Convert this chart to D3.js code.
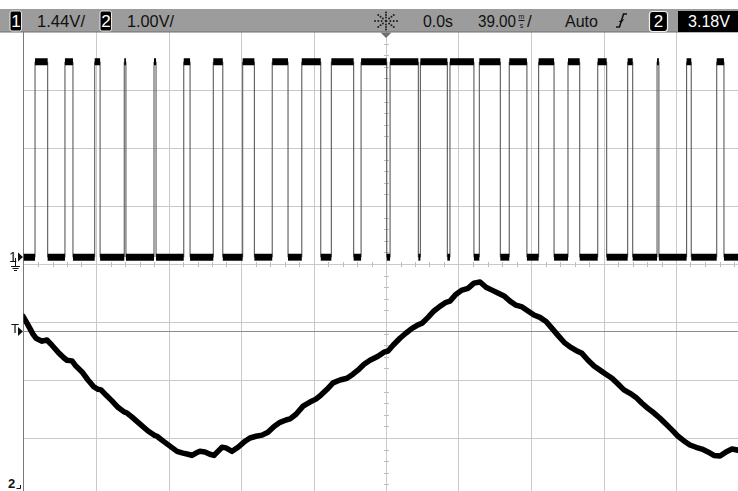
<!DOCTYPE html>
<html>
<head>
<meta charset="utf-8">
<script src="https://cdn.jsdelivr.net/npm/d3@7/dist/d3.min.js"></script>
<style>
  html, body { margin: 0; padding: 0; background: #fff; }
  svg { display: block; }
  text { font-family: "Liberation Sans", Arial, sans-serif; }
</style>
</head>
<body>
<svg id="scope" width="738" height="491"></svg>
<script>
// ---- acquisition settings ----
const timePerDiv = 39;          // ms / div
const ch1VoltsPerDiv = 1.44;    // V / div
const ch2VoltsPerDiv = 1.00;    // V / div
const ch1Offset = -0.17;        // V at screen centre
const ch2Offset = 4.33;         // V at screen centre
const triggerLevel = 3.18;      // V, channel 2

// ---- status bar labels ----
const ch1Label = "1.44V/";
const ch2Label = "1.00V/";
const delayLabel = "0.0s";
const timebaseLabel = "39.00";
const modeLabel = "Auto";
const trigSourceLabel = "2";
const trigLevelLabel = "3.18V";

// ---- channel 1: PWM logic signal (edge times in ms, levels in V) ----
const ch1Low = 0.0;
const ch1High = 4.85;
const ch1Rise = [-188.8, -172.7, -156.7, -140.8, -124.8, -108.8, -92.9, -77.1, -61.2, -45.3,
                 -29.4, -13.4, 2.2, 18.5, 34.4, 50.2, 66.3, 82.1, 97.9, 113.9,
                 130.0, 145.8, 161.7, 177.9];
const ch1Fall = [-182.0, -168.4, -153.8, -139.9, -123.7, -105.4, -87.8, -70.8, -52.7, -35.1,
                 -17.4, 0.4, 17.4, 33.0, 47.3, 61.5, 75.8, 90.4, 104.2, 118.7,
                 132.7, 146.8, 164.2, 181.8];

// ---- channel 2: filtered output (time in ms, voltage in V) ----
const ch2Time = [-195.3, -192.6, -189.9, -188.3, -185.0, -182.4, -179.7, -176.4, -173.2, -171.6,
                 -168.9, -166.8, -163.5, -160.3, -157.1, -154.9, -153.3, -150.6, -147.4, -144.2,
                 -140.9, -139.3, -136.6, -132.3, -128.0, -124.8, -123.2, -120.0, -116.2, -112.4,
                 -109.2, -106.5, -104.4, -102.2, -100.1, -97.4, -94.7, -92.5, -90.4, -88.2,
                 -86.1, -82.8, -79.6, -76.4, -73.2, -69.9, -66.7, -63.5, -60.2, -57.0,
                 -53.8, -51.6, -48.4, -44.6, -40.9, -37.7, -35.0, -31.7, -28.5, -24.7,
                 -21.0, -17.8, -15.1, -11.8, -8.6, -4.3, -1.1, 1.1, 3.8, 7.5,
                 10.8, 14.0, 17.2, 19.4, 22.6, 25.8, 29.0, 32.3, 34.4, 37.7,
                 40.9, 44.1,
                 47.3, 50.6, 53.8, 57.0, 60.2, 63.5, 66.7, 69.9, 73.2, 76.4,
                 79.6, 82.8, 86.1, 89.3, 92.5, 95.8, 99.0, 102.2, 105.4, 108.7,
                 111.9, 115.1, 118.3, 121.6, 124.8, 128.0, 131.3, 134.5, 137.7, 140.9,
                 144.2, 147.4, 150.6, 153.8, 157.1, 160.3, 163.5, 166.8, 170.0, 173.2,
                 176.4, 179.7, 182.9, 186.1, 189.4];
const ch2Volts = [3.43, 3.28, 3.12, 3.05, 3.00, 3.02, 2.93, 2.81, 2.71, 2.67,
                  2.66, 2.57, 2.47, 2.33, 2.21, 2.17, 2.16, 2.07, 1.97, 1.86,
                  1.78, 1.76, 1.69, 1.57, 1.45, 1.38, 1.36, 1.28, 1.19, 1.10,
                  1.07, 1.05, 1.03, 1.07, 1.10, 1.09, 1.05, 1.03, 1.10, 1.17,
                  1.16, 1.10, 1.17, 1.26, 1.33, 1.36, 1.38, 1.43, 1.53, 1.60,
                  1.64, 1.66, 1.74, 1.88, 1.95, 2.00, 2.07, 2.17, 2.28, 2.33,
                  2.36, 2.43, 2.50, 2.60, 2.67, 2.74, 2.81, 2.83, 2.93, 3.05,
                  3.14, 3.22, 3.28, 3.31, 3.41, 3.52, 3.60, 3.67, 3.69, 3.81,
                  3.88, 3.91,
                  4.00, 4.02, 3.93, 3.88, 3.83, 3.78, 3.69, 3.62, 3.59, 3.52,
                  3.45, 3.41, 3.34, 3.22, 3.10, 2.98, 2.90, 2.84, 2.79, 2.67,
                  2.57, 2.50, 2.43, 2.36, 2.26, 2.16, 2.10, 2.03, 1.93, 1.84,
                  1.76, 1.67, 1.57, 1.47, 1.36, 1.28, 1.21, 1.17, 1.14, 1.09,
                  1.03, 1.02, 1.09, 1.14, 1.12];

// ---- screen geometry ----
const screen = { left: 23.5, right: 748.5, top: 32, bottom: 496 };
const hDivs = 10, vDivs = 8;

const svg = d3.select("#scope");

const x = d3.scaleLinear()
  .domain([-hDivs / 2 * timePerDiv, hDivs / 2 * timePerDiv])
  .range([screen.left, screen.right]);
const y1 = d3.scaleLinear()
  .domain([ch1Offset - vDivs / 2 * ch1VoltsPerDiv, ch1Offset + vDivs / 2 * ch1VoltsPerDiv])
  .range([screen.bottom, screen.top]);
const y2 = d3.scaleLinear()
  .domain([ch2Offset - vDivs / 2 * ch2VoltsPerDiv, ch2Offset + vDivs / 2 * ch2VoltsPerDiv])
  .range([screen.bottom, screen.top]);
const divX = d3.scaleLinear().domain([-hDivs / 2, hDivs / 2]).range([screen.left, screen.right]);
const divY = d3.scaleLinear().domain([-vDivs / 2, vDivs / 2]).range([screen.bottom, screen.top]);

svg.append("defs").append("clipPath").attr("id", "screenClip")
  .append("rect")
  .attr("x", screen.left).attr("y", screen.top)
  .attr("width", screen.right - screen.left).attr("height", screen.bottom - screen.top);

// ---- graticule ----
const grid = svg.append("g").attr("class", "graticule");
grid.selectAll("line.v").data(d3.range(-hDivs / 2 + 1, hDivs / 2))
  .join("line").attr("class", "v")
  .attr("x1", d => Math.round(divX(d)) + 0.5).attr("x2", d => Math.round(divX(d)) + 0.5)
  .attr("y1", screen.top).attr("y2", screen.bottom)
  .attr("stroke", "#c9c9c9").attr("stroke-width", 1);
grid.selectAll("line.h").data(d3.range(-vDivs / 2 + 1, vDivs / 2))
  .join("line").attr("class", "h")
  .attr("x1", screen.left).attr("x2", screen.right)
  .attr("y1", d => Math.round(divY(d)) + 0.5).attr("y2", d => Math.round(divY(d)) + 0.5)
  .attr("stroke", "#c9c9c9").attr("stroke-width", 1);

// minor ticks on the centre axes
const cx = Math.round(divX(0)) + 0.5, cy = Math.round(divY(0)) + 0.5;
grid.selectAll("line.tx").data(d3.range(-hDivs / 2 * 5, hDivs / 2 * 5 + 1).filter(i => i % 5 !== 0))
  .join("line").attr("class", "tx")
  .attr("x1", i => Math.round(divX(i / 5)) + 0.5).attr("x2", i => Math.round(divX(i / 5)) + 0.5)
  .attr("y1", cy - 2.5).attr("y2", cy + 2.5)
  .attr("stroke", "#bdbdbd");
grid.selectAll("line.ty").data(d3.range(-vDivs / 2 * 5, vDivs / 2 * 5 + 1).filter(i => i % 5 !== 0))
  .join("line").attr("class", "ty")
  .attr("y1", i => Math.round(divY(i / 5)) + 0.5).attr("y2", i => Math.round(divY(i / 5)) + 0.5)
  .attr("x1", cx - 2.5).attr("x2", cx + 2.5)
  .attr("stroke", "#bdbdbd");

// left frame
svg.append("line")
  .attr("x1", screen.left).attr("x2", screen.left)
  .attr("y1", screen.top).attr("y2", screen.bottom)
  .attr("stroke", "#7a7a7a").attr("stroke-width", 1);

// trigger level line
svg.append("line")
  .attr("x1", screen.left).attr("x2", screen.right)
  .attr("y1", Math.round(y2(triggerLevel)) + 0.5).attr("y2", Math.round(y2(triggerLevel)) + 0.5)
  .attr("stroke", "#8c8c8c").attr("stroke-width", 1);

// ---- traces ----
const traces = svg.append("g").attr("clip-path", "url(#screenClip)");

// channel 1: edges then level bands
const tStart = x.domain()[0], tEnd = x.domain()[1];
const edges = ch1Rise.concat(ch1Fall);
traces.selectAll("line.edge").data(edges).join("line").attr("class", "edge")
  .attr("x1", d => x(d)).attr("x2", d => x(d))
  .attr("y1", y1(ch1High)).attr("y2", y1(ch1Low))
  .attr("stroke", "#5a5a5a").attr("stroke-width", 1.1);

const highSegs = ch1Rise.map((r, i) => [r, ch1Fall[i]]);
const lowSegs = [[tStart, ch1Rise[0]]]
  .concat(ch1Fall.map((f, i) => [f, i + 1 < ch1Rise.length ? ch1Rise[i + 1] : tEnd]));

traces.selectAll("line.hi").data(highSegs).join("line").attr("class", "hi")
  .attr("x1", d => x(d[0])).attr("x2", d => x(d[1]))
  .attr("y1", y1(ch1High)).attr("y2", y1(ch1High))
  .attr("stroke", "#000").attr("stroke-width", 7);
traces.selectAll("line.lo").data(lowSegs).join("line").attr("class", "lo")
  .attr("x1", d => x(d[0])).attr("x2", d => x(d[1]))
  .attr("y1", y1(ch1Low)).attr("y2", y1(ch1Low))
  .attr("stroke", "#000").attr("stroke-width", 7);

// channel 2
const ch2 = ch2Time.map((t, i) => ({ t, v: ch2Volts[i] }));
traces.append("path").datum(ch2)
  .attr("d", d3.line().x(d => x(d.t)).y(d => y2(d.v)))
  .attr("fill", "none").attr("stroke", "#000")
  .attr("stroke-width", 5.5).attr("stroke-linejoin", "round").attr("stroke-linecap", "round");

// ---- status bar ----
const bar = svg.append("g");
bar.append("rect").attr("x", 0).attr("y", 9).attr("width", 738).attr("height", 23).attr("fill", "#9c9c9c");
bar.append("line").attr("x1", 0).attr("x2", 738).attr("y1", 32).attr("y2", 32).attr("stroke", "#6e6e6e");

function chanBox(xPos, label) {
  bar.append("rect").attr("x", xPos).attr("y", 11).attr("width", 11.5).attr("height", 20)
    .attr("rx", 2).attr("fill", "#000").attr("stroke", "#e8e8e8").attr("stroke-width", 1);
  bar.append("text").attr("x", xPos + 5.9).attr("y", 27).attr("text-anchor", "middle")
    .attr("font-size", 17).attr("fill", "#fff").text(label);
}
chanBox(10, "1");
bar.append("text").attr("x", 37).attr("y", 27).attr("font-size", 17).attr("fill", "#111")
  .attr("textLength", 48).attr("lengthAdjust", "spacingAndGlyphs").text(ch1Label);
chanBox(100, "2");
bar.append("text").attr("x", 127).attr("y", 27).attr("font-size", 17).attr("fill", "#111")
  .attr("textLength", 47).attr("lengthAdjust", "spacingAndGlyphs").text(ch2Label);

// trigger position icon
const star = bar.append("g").attr("transform", "translate(386,21)");
d3.range(8).forEach(k => {
  const a = k * Math.PI / 4;
  [4, 7, 10].forEach(r => {
    star.append("circle").attr("cx", Math.cos(a) * r * 1.1).attr("cy", Math.sin(a) * r * 0.85)
      .attr("r", 1).attr("fill", "#1e1e1e");
  });
});
star.append("circle").attr("r", 1.3).attr("fill", "#1e1e1e");

bar.append("text").attr("x", 423).attr("y", 27).attr("font-size", 17).attr("fill", "#111")
  .attr("textLength", 30).attr("lengthAdjust", "spacingAndGlyphs").text(delayLabel);
bar.append("text").attr("x", 478).attr("y", 27).attr("font-size", 16).attr("fill", "#111")
  .attr("textLength", 38).attr("lengthAdjust", "spacingAndGlyphs").text(timebaseLabel);
// stacked "m over s" unit glyph
bar.append("text").attr("x", 521.5).attr("y", 18.5).attr("font-size", 7).attr("fill", "#111")
  .attr("text-anchor", "middle").text("m");
bar.append("line").attr("x1", 518.5).attr("x2", 524.5).attr("y1", 20.5).attr("y2", 20.5).attr("stroke", "#111");
bar.append("text").attr("x", 521.5).attr("y", 28).attr("font-size", 7).attr("fill", "#111")
  .attr("text-anchor", "middle").text("s");
bar.append("text").attr("x", 527).attr("y", 27).attr("font-size", 17).attr("fill", "#111").text("/");
bar.append("text").attr("x", 565).attr("y", 27).attr("font-size", 17).attr("fill", "#111")
  .attr("textLength", 33).attr("lengthAdjust", "spacingAndGlyphs").text(modeLabel);

// rising-edge trigger symbol
bar.append("path").attr("d", "M616,27 H619.5 L623.5,14 H627")
  .attr("fill", "none").attr("stroke", "#111").attr("stroke-width", 1.6);
bar.append("path").attr("d", "M618.5,21.5 L624.5,19 L621.5,22.5 Z").attr("fill", "#111");

bar.append("rect").attr("x", 649.5).attr("y", 11.5).attr("width", 18).attr("height", 20)
  .attr("rx", 3).attr("fill", "#000").attr("stroke", "#f2f2f2").attr("stroke-width", 1.2);
bar.append("text").attr("x", 658.5).attr("y", 27).attr("text-anchor", "middle")
  .attr("font-size", 17).attr("fill", "#fff").text(trigSourceLabel);
bar.append("rect").attr("x", 678).attr("y", 11).attr("width", 62).attr("height", 21).attr("fill", "#000");
bar.append("text").attr("x", 688).attr("y", 27).attr("font-size", 17).attr("fill", "#fff")
  .attr("textLength", 42).attr("lengthAdjust", "spacingAndGlyphs").text(trigLevelLabel);

// trigger position marker under the bar
svg.append("path")
  .attr("d", `M${x(0) - 5.5},${screen.top + 0.5} L${x(0) + 5.5},${screen.top + 0.5} L${x(0)},${screen.top + 6} Z`)
  .attr("fill", "#707070");

// ---- channel / trigger markers at the left edge ----
const gnd1 = Math.round(y1(0));
svg.append("text").attr("x", 9).attr("y", gnd1 + 5).attr("font-size", 14).attr("fill", "#111").text("1");
svg.append("path").attr("d", `M18,${gnd1 - 4.5} L23,${gnd1} L18,${gnd1 + 4.5} Z`).attr("fill", "#111");
svg.append("path")
  .attr("d", `M15.5,${gnd1 + 1} V${gnd1 + 9} M11,${gnd1 + 9.5} H20 M12.5,${gnd1 + 11.5} H18.5 M14,${gnd1 + 13.5} H17`)
  .attr("stroke", "#111").attr("stroke-width", 1).attr("fill", "none");

const trigY = Math.round(y2(triggerLevel)) + 0.5;
svg.append("text").attr("x", 11).attr("y", trigY + 1).attr("font-size", 13).attr("fill", "#111").text("T");
svg.append("path").attr("d", `M18,${trigY - 4.5} L23,${trigY} L18,${trigY + 4.5} Z`).attr("fill", "#111");

svg.append("text").attr("x", 8).attr("y", 488).attr("font-size", 13).attr("font-weight", "bold")
  .attr("fill", "#111").text("2");
svg.append("path").attr("d", "M16.5,488.5 H20.5 V485").attr("stroke", "#111").attr("fill", "none");
</script>
</body>
</html>
